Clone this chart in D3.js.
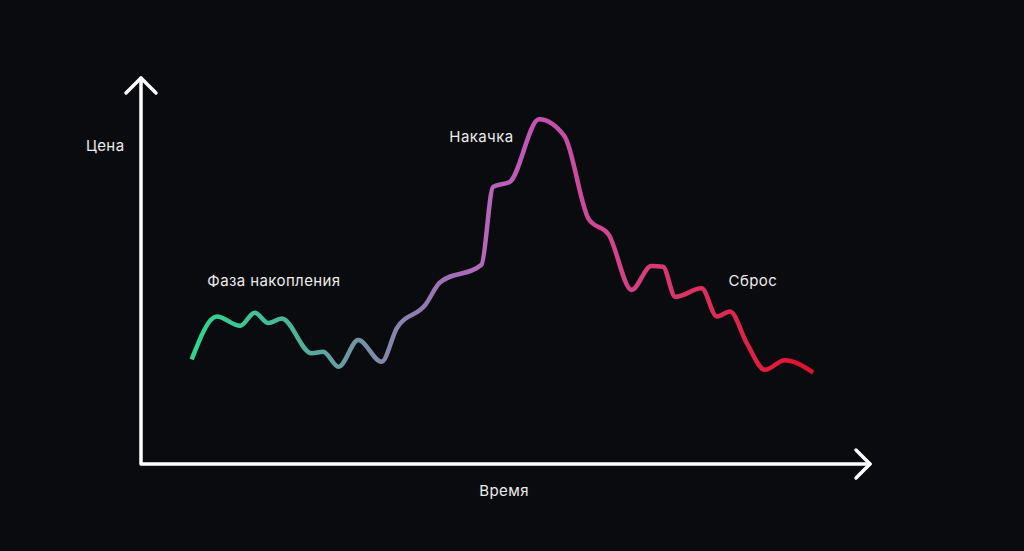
<!DOCTYPE html>
<html>
<head>
<meta charset="utf-8">
<script src="https://cdn.jsdelivr.net/npm/d3@7"></script>
<style>
  html, body { margin: 0; padding: 0; background: #0a0b0f; }
  svg { display: block; }
  .label { font-family: Inter, "Noto Sans", sans-serif; font-size: 15px; letter-spacing: 0.4px; fill: #ececec; }
</style>
</head>
<body>
<svg width="1024" height="551"></svg>
<script>
// time / price points
var time  = [6.95, 10.4, 13.6, 15.6, 17.5, 19.3, 23.4, 25.0, 27.1, 29.8, 33.0, 35.1, 39.0, 41.0, 46.7, 48.3, 50.6, 54.6, 58.1, 61.4, 64.2, 67.3, 70.0, 71.6, 73.3, 76.9, 79.0, 80.8, 83.1, 85.6, 88.3, 92.2];
var price = [27.1, 38.2, 35.8, 39.2, 36.5, 37.7, 28.7, 29.1, 25.2, 32.1, 26.5, 35.2, 41.2, 47.0, 51.6, 71.8, 73.1, 89.3, 84.9, 63.5, 59.3, 45.1, 51.3, 51.1, 43.3, 45.5, 38.2, 39.5, 31.3, 24.4, 26.9, 23.7];

var phaseNames = ["Фаза накопления", "Накачка", "Сброс"];
var phaseX = [9.1, 42.3, 80.6];
var phaseY = [46.0, 83.5, 46.0];

var axisNames = ["Цена", "Время"];

var gradStops = [0, 0.174, 0.31, 0.40, 0.48, 0.56, 0.67, 0.82, 1];
var gradColors = ["#2ed68f", "#4fb099", "#8288ac", "#9c72b4", "#b864bc", "#c452b2", "#d2458e", "#dc2f5c", "#e0112a"];

var svg = d3.select("svg"),
    width = +svg.attr("width"),
    height = +svg.attr("height");

var x = d3.scaleLinear().domain([0, 100]).range([141, 870]);
var y = d3.scaleLinear().domain([0, 100]).range([464, 78]);

var defs = svg.append("defs");
var grad = defs.append("linearGradient")
    .attr("id", "lineGrad")
    .attr("gradientUnits", "userSpaceOnUse")
    .attr("x1", x(d3.min(time))).attr("y1", 0)
    .attr("x2", x(d3.max(time))).attr("y2", 0);
grad.selectAll("stop")
    .data(gradStops)
    .enter().append("stop")
    .attr("offset", function(d) { return d; })
    .attr("stop-color", function(d, i) { return gradColors[i]; });

svg.append("rect")
    .attr("width", width)
    .attr("height", height)
    .attr("fill", "#0a0b0f");

// axes
var axis = svg.append("g")
    .attr("fill", "none")
    .attr("stroke", "#ffffff")
    .attr("stroke-width", 3.5)
    .attr("stroke-linecap", "round")
    .attr("stroke-linejoin", "round");

axis.append("path")
    .attr("d", "M" + x(0) + "," + y(100) + "L" + x(0) + "," + y(0) + "L" + x(100) + "," + y(0));
// arrow heads
axis.append("path")
    .attr("d", "M" + (x(0) - 15) + "," + (y(100) + 15) + "L" + x(0) + "," + y(100) + "L" + (x(0) + 15) + "," + (y(100) + 15));
axis.append("path")
    .attr("d", "M" + (x(100) - 14) + "," + (y(0) - 14) + "L" + x(100) + "," + y(0) + "L" + (x(100) - 14) + "," + (y(0) + 14));

// price line
var line = d3.line()
    .x(function(d, i) { return x(time[i]); })
    .y(function(d) { return y(d); })
    .curve(d3.curveMonotoneX);

svg.append("path")
    .datum(price)
    .attr("d", line)
    .attr("fill", "none")
    .attr("stroke", "url(#lineGrad)")
    .attr("stroke-width", 4.5)
    .attr("stroke-linejoin", "round");

// labels
svg.selectAll(".phase")
    .data(phaseNames)
    .enter().append("text")
    .attr("class", "label phase")
    .attr("x", function(d, i) { return x(phaseX[i]); })
    .attr("y", function(d, i) { return y(phaseY[i]); })
    .text(function(d) { return d; });

svg.append("text").attr("class", "label")
    .attr("x", x(0) - 55).attr("y", y(81))
    .text(axisNames[0]);

svg.append("text").attr("class", "label")
    .attr("x", x(46.4)).attr("y", y(0) + 32)
    .text(axisNames[1]);
</script>
</body>
</html>
